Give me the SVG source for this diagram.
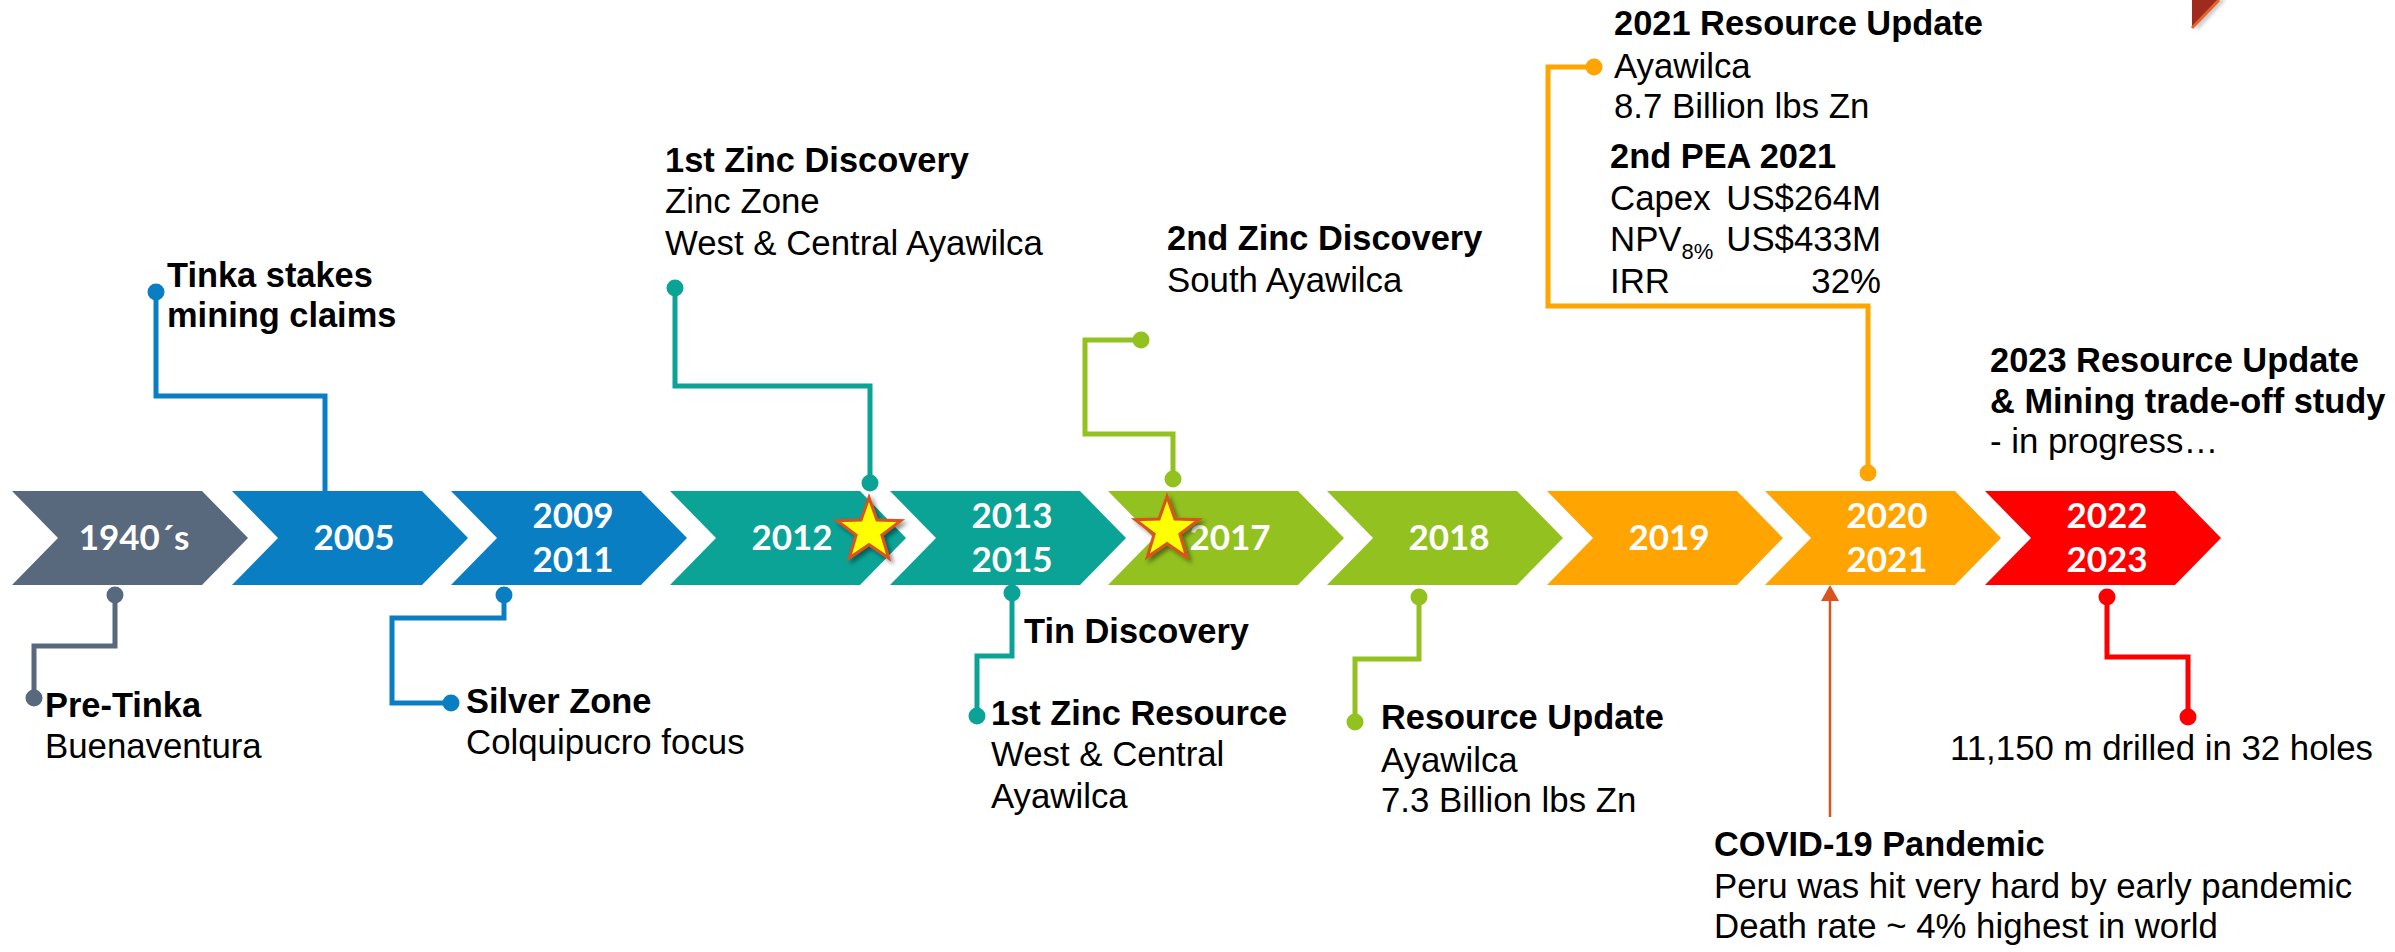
<svg xmlns="http://www.w3.org/2000/svg" width="2395" height="952" viewBox="0 0 2395 952">
  <defs>
    <style>
      .lbl { font-family: "Liberation Sans", Arial, sans-serif; font-size: 34.8px; fill: #000; }
      .b { font-weight: bold; font-size: 34.4px; }
      .yr { font-family: Lato, "Open Sans", sans-serif; font-weight: bold; font-size: 35px; fill: #fff; text-anchor: middle; }
      .ln { fill: none; stroke-width: 5; stroke-linejoin: miter; stroke-linecap: butt; }
      .slate { fill: #58687D; } .slate-s { stroke: #58687D; }
      .blue { fill: #0A7EC2; } .blue-s { stroke: #0A7EC2; }
      .teal { fill: #0AA396; } .teal-s { stroke: #0AA396; }
      .green { fill: #93C11F; } .green-s { stroke: #93C11F; }
      .orange { fill: #FFA400; } .orange-s { stroke: #FFA400; }
      .red { fill: #FF0000; } .red-s { stroke: #FF0000; }
      .star { fill: #FFFF00; stroke: #D9521E; stroke-width: 3; stroke-linejoin: miter; }
    </style>
    <!-- one chevron step of the timeline band -->
    <path id="chev" d="M0,0 H190 L236,47 L190,94 H0 L46,47 Z"/>
    <!-- five-point star marker -->
    <path id="starShape" d="M0,-33.5 L7.94,-10.92 L31.86,-10.35 L12.84,4.17 L19.69,27.1 L0,13.5 L-19.69,27.1 L-12.84,4.17 L-31.86,-10.35 L-7.94,-10.92 Z"/>
    <filter id="shadow" x="-30%" y="-30%" width="160%" height="160%">
      <feDropShadow dx="3" dy="3" stdDeviation="2" flood-color="#000" flood-opacity="0.45"/>
    </filter>
    <filter id="soft" x="-5%" y="-200%" width="110%" height="500%">
      <feGaussianBlur stdDeviation="1.5"/>
    </filter>
  </defs>

  <rect width="2395" height="952" fill="#fff"/>

  <!-- top edge decoration -->
  <g id="top-edge">
    <line x1="841" y1="2" x2="2188" y2="2" stroke="#cfcfcf" stroke-width="3" filter="url(#soft)"/>
    <polygon points="2196,0 2226,0 2197,31" fill="#8a8a8a" opacity="0.4" filter="url(#soft)"/>
    <polygon points="2192,0 2219,0 2192,28" fill="#9E2B1E"/>
    <line x1="2219" y1="0" x2="2192" y2="28" stroke="#E8622A" stroke-width="3"/>
  </g>

  <!-- connectors -->
  <g id="connectors">
    <path class="ln slate-s" d="M115,595 V646 H34 V698"/>
    <path class="ln blue-s" d="M156,292 V396 H325 V491"/>
    <path class="ln blue-s" d="M504,595 V618 H392 V703 H451"/>
    <path class="ln teal-s" d="M675,288 V386 H870 V483"/>
    <path class="ln teal-s" d="M1012,593 V656 H977 V716"/>
    <path class="ln green-s" d="M1141,340 H1085 V434 H1173 V479"/>
    <path class="ln green-s" d="M1419,597 V659 H1355 V722"/>
    <path class="ln orange-s" d="M1594,67 H1548 V306 H1868 V473"/>
    <path class="ln red-s" d="M2107,597 V657 H2188 V717"/>
    <line x1="1830" y1="817" x2="1830" y2="599" stroke="#D9541E" stroke-width="2.5"/>
    <polygon points="1830,585 1839,601 1821,601" fill="#D9541E"/>

    <circle class="slate" cx="115" cy="595" r="8.5"/>
    <circle class="slate" cx="34" cy="698" r="8.5"/>
    <circle class="blue" cx="156" cy="292" r="8.5"/>
    <circle class="blue" cx="504" cy="595" r="8.5"/>
    <circle class="blue" cx="451" cy="703" r="8.5"/>
    <circle class="teal" cx="675" cy="288" r="8.5"/>
    <circle class="teal" cx="870" cy="483" r="8.5"/>
    <circle class="teal" cx="1012" cy="593" r="8.5"/>
    <circle class="teal" cx="977" cy="716" r="8.5"/>
    <circle class="green" cx="1141" cy="340" r="8.5"/>
    <circle class="green" cx="1173" cy="479" r="8.5"/>
    <circle class="green" cx="1419" cy="597" r="8.5"/>
    <circle class="green" cx="1355" cy="722" r="8.5"/>
    <circle class="orange" cx="1594" cy="67" r="8.5"/>
    <circle class="orange" cx="1868" cy="473" r="8.5"/>
    <circle class="red" cx="2107" cy="597" r="8.5"/>
    <circle class="red" cx="2188" cy="717" r="8.5"/>
  </g>

  <!-- timeline chevrons -->
  <g id="y1940">
    <use href="#chev" class="slate" transform="translate(12,491)"/>
    <text class="yr" x="134" y="550">1940´s</text>
  </g>
  <g id="y2005">
    <use href="#chev" class="blue" transform="translate(232,491)"/>
    <text class="yr" x="354" y="550">2005</text>
  </g>
  <g id="y2009">
    <use href="#chev" class="blue" transform="translate(451,491)"/>
    <text class="yr" x="573" y="528">2009</text>
    <text class="yr" x="573" y="572">2011</text>
  </g>
  <g id="y2012">
    <use href="#chev" class="teal" transform="translate(670,491)"/>
    <text class="yr" x="792" y="550">2012</text>
  </g>
  <g id="y2013">
    <use href="#chev" class="teal" transform="translate(890,491)"/>
    <text class="yr" x="1012" y="528">2013</text>
    <text class="yr" x="1012" y="572">2015</text>
  </g>
  <g id="y2017">
    <use href="#chev" class="green" transform="translate(1108,491)"/>
    <text class="yr" x="1230" y="550">2017</text>
  </g>
  <g id="y2018">
    <use href="#chev" class="green" transform="translate(1327,491)"/>
    <text class="yr" x="1449" y="550">2018</text>
  </g>
  <g id="y2019">
    <use href="#chev" class="orange" transform="translate(1547,491)"/>
    <text class="yr" x="1669" y="550">2019</text>
  </g>
  <g id="y2020">
    <use href="#chev" class="orange" transform="translate(1765,491)"/>
    <text class="yr" x="1887" y="528">2020</text>
    <text class="yr" x="1887" y="572">2021</text>
  </g>
  <g id="y2022">
    <use href="#chev" class="red" transform="translate(1985,491)"/>
    <text class="yr" x="2107" y="528">2022</text>
    <text class="yr" x="2107" y="572">2023</text>
  </g>

  <!-- discovery stars -->
  <g id="star-2012">
    <use href="#starShape" class="star" transform="translate(869,531)" filter="url(#shadow)"/>
  </g>
  <g id="star-2017">
    <use href="#starShape" class="star" transform="translate(1167,530)" filter="url(#shadow)"/>
  </g>

  <!-- event labels -->
  <g id="tinka">
    <text class="lbl b" x="167" y="287">Tinka stakes</text>
    <text class="lbl b" x="167" y="327">mining claims</text>
  </g>
  <g id="zinc1">
    <text class="lbl b" x="665" y="172">1st Zinc Discovery</text>
    <text class="lbl" x="665" y="213">Zinc Zone</text>
    <text class="lbl" x="665" y="255">West &amp; Central Ayawilca</text>
  </g>
  <g id="zinc2">
    <text class="lbl b" x="1167" y="250">2nd Zinc Discovery</text>
    <text class="lbl" x="1167" y="292">South Ayawilca</text>
  </g>
  <g id="res2021">
    <text class="lbl b" x="1614" y="35">2021 Resource Update</text>
    <text class="lbl" x="1614" y="78">Ayawilca</text>
    <text class="lbl" x="1614" y="118">8.7 Billion lbs Zn</text>
    <text class="lbl b" x="1610" y="168">2nd PEA 2021</text>
    <text class="lbl" x="1610" y="210">Capex</text>
    <text class="lbl" x="1881" y="210" text-anchor="end">US$264M</text>
    <text class="lbl" x="1610" y="251">NPV<tspan font-size="22" dy="8">8%</tspan></text>
    <text class="lbl" x="1881" y="251" text-anchor="end">US$433M</text>
    <text class="lbl" x="1610" y="293">IRR</text>
    <text class="lbl" x="1881" y="293" text-anchor="end">32%</text>
  </g>
  <g id="res2023">
    <text class="lbl b" x="1990" y="372">2023 Resource Update</text>
    <text class="lbl b" x="1990" y="413">&amp; Mining trade-off study</text>
    <text class="lbl" x="1990" y="453">- in progress…</text>
  </g>
  <g id="pretinka">
    <text class="lbl b" x="45" y="717">Pre-Tinka</text>
    <text class="lbl" x="45" y="758">Buenaventura</text>
  </g>
  <g id="silver">
    <text class="lbl b" x="466" y="713">Silver Zone</text>
    <text class="lbl" x="466" y="754">Colquipucro focus</text>
  </g>
  <g id="tin">
    <text class="lbl b" x="1024" y="643">Tin Discovery</text>
  </g>
  <g id="zincres">
    <text class="lbl b" x="991" y="725">1st Zinc Resource</text>
    <text class="lbl" x="991" y="766">West &amp; Central</text>
    <text class="lbl" x="991" y="808">Ayawilca</text>
  </g>
  <g id="res2018">
    <text class="lbl b" x="1381" y="729">Resource Update</text>
    <text class="lbl" x="1381" y="772">Ayawilca</text>
    <text class="lbl" x="1381" y="812">7.3 Billion lbs Zn</text>
  </g>
  <g id="covid">
    <text class="lbl b" x="1714" y="856">COVID-19 Pandemic</text>
    <text class="lbl" x="1714" y="898">Peru was hit very hard by early pandemic</text>
    <text class="lbl" x="1714" y="938">Death rate ~ 4% highest in world</text>
  </g>
  <g id="drilling">
    <text class="lbl" x="1950" y="760">11,150 m drilled in 32 holes</text>
  </g>
</svg>
